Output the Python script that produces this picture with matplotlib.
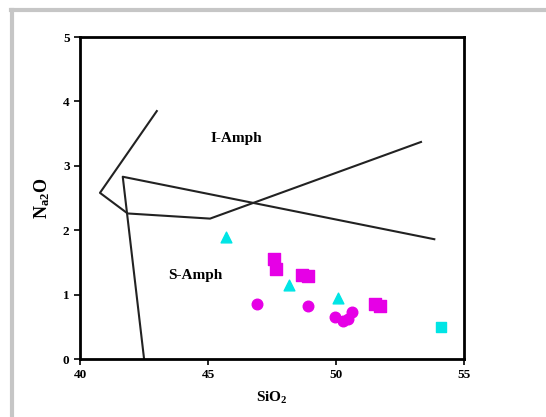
import matplotlib
matplotlib.use("Agg")
import matplotlib.pyplot as plt
from matplotlib.lines import Line2D

plt.rcParams["font.family"] = ["Liberation Serif", "DejaVu Serif"]
plt.rcParams["mathtext.default"] = "regular"

# Discrimination boundaries (SiO2, Na2O)
line1_x = [43.0, 40.78, 41.86, 45.08, 53.32]
line1_y = [3.85, 2.58, 2.26, 2.18, 3.37]
line2_x = [53.84, 41.67, 42.5]
line2_y = [1.86, 2.83, 0.01]

# Samples
tri_x = [45.72, 48.18, 50.09]
tri_y = [1.89, 1.15, 0.95]
cyan_sq_x = [54.1]
cyan_sq_y = [0.49]
mag_sq_x = [47.59, 47.66, 48.66, 48.92, 51.52, 51.72]
mag_sq_y = [1.55, 1.40, 1.30, 1.29, 0.86, 0.83]
mag_ci_x = [46.93, 48.89, 49.96, 50.29, 50.48, 50.61]
mag_ci_y = [0.85, 0.83, 0.65, 0.59, 0.62, 0.73]

fig = plt.figure(figsize=(5.46, 4.17), dpi=100)
W, H = 546, 417
# grey frame (shadow) at top and left
fig.add_artist(Line2D([11 / W, 1], [1 - 10 / H, 1 - 10 / H], color="#c6c6c6", lw=3, transform=fig.transFigure))
fig.add_artist(Line2D([12 / W, 12 / W], [0, 1 - 10 / H], color="#c6c6c6", lw=3, transform=fig.transFigure))

ax = fig.add_axes([80 / W, 58 / H, 384 / W, 322 / H])

ax.plot(line1_x, line1_y, color="#222222", lw=1.5)
ax.plot(line2_x, line2_y, color="#222222", lw=1.5)

ax.scatter(tri_x, tri_y, marker="^", s=60, color="#00e5e5", zorder=3)
ax.scatter(cyan_sq_x, cyan_sq_y, marker="s", s=60, color="#00e5e5", zorder=3)
ax.scatter(mag_sq_x, mag_sq_y, marker="s", s=65, color="#e600e6", zorder=3)
ax.scatter(mag_ci_x, mag_ci_y, marker="o", s=58, color="#e600e6", zorder=3)

ax.text(46.12, 3.43, "I-Amph", ha="center", va="center", fontsize=11, fontweight="bold")
ax.text(44.49, 1.30, "S-Amph", ha="center", va="center", fontsize=11, fontweight="bold")

ax.set_xlim(40, 55)
ax.set_ylim(0, 5)
ax.set_xticks([40, 45, 50, 55])
ax.set_yticks([0, 1, 2, 3, 4, 5])
ax.set_xlabel("SiO$_2$", fontsize=11, fontweight="bold", labelpad=6)
ax.set_ylabel("N$_{a2}$O", fontsize=13, fontweight="bold", labelpad=8)
for lab in ax.get_xticklabels() + ax.get_yticklabels():
    lab.set_fontweight("bold")
ax.tick_params(labelsize=9.5, length=4, width=1.2, direction="out")
for s in ax.spines.values():
    s.set_linewidth(2)

fig.savefig("out.png", dpi=100)
